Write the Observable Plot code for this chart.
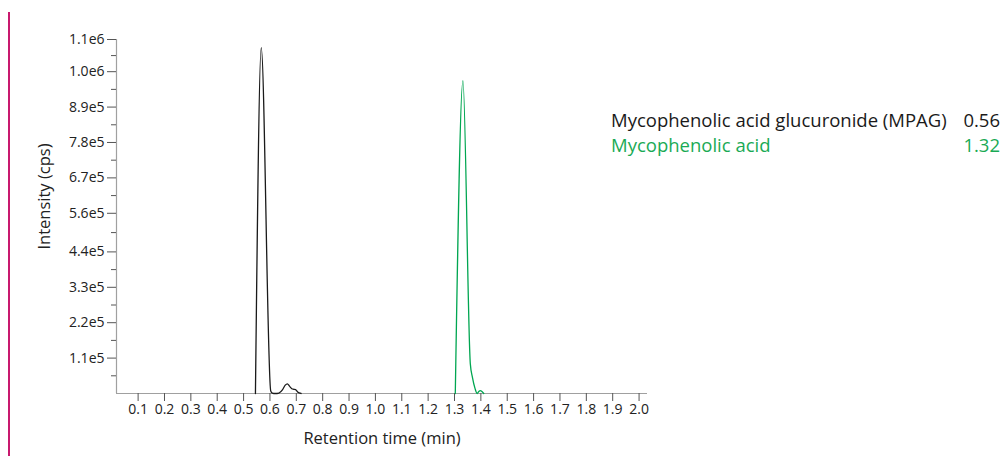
<!DOCTYPE html>
<html>
<head>
<meta charset="utf-8">
<script src="https://cdn.jsdelivr.net/npm/d3@7"></script>
<script src="https://cdn.jsdelivr.net/npm/@observablehq/plot@0.6"></script>
<style>
  body { margin: 0; background: #fff; }
  #wrap { position: relative; width: 1001px; height: 464px; overflow: hidden; font-family: "Open Sans", sans-serif; }
  #bar { position: absolute; left: 8px; top: 12px; width: 2px; height: 444px; background: #c8196e; }
  #legend { position: absolute; left: 611px; top: 107px; width: 389px; font-size: 18.5px; line-height: 25px; }
  #legend .row { display: flex; justify-content: space-between; }
  #chart { position: absolute; left: 0; top: 0; }
</style>
</head>
<body>
<div id="wrap">
  <div id="bar"></div>
  <div id="chart"></div>
  <div id="legend"></div>
</div>
<script>
// ---- data ----
const seriesNames = ["Mycophenolic acid glucuronide (MPAG)", "Mycophenolic acid"];
const retentionTimes = ["0.56", "1.32"];
const seriesColors = ["#1a1a1a", "#00a651"];
const legendColors = ["#1a1a1a", "#1aaa55"];

const mpagTime      = [0.545, 0.567, 0.603, 0.609, 0.620, 0.634, 0.648, 0.658, 0.666, 0.674, 0.683, 0.690, 0.697, 0.705, 0.718];
const mpagIntensity = [0, 1075000, 8000, 1500, 0, 1500, 12000, 26000, 30000, 23000, 15000, 13000, 12000, 5000, 0];

const mpaTime      = [1.303, 1.332, 1.360, 1.368, 1.378, 1.386, 1.392, 1.398, 1.404, 1.411];
const mpaIntensity = [0, 972000, 92000, 50000, 15000, 0, 6000, 9000, 6000, 0];

const xTicks = [0.1, 0.2, 0.3, 0.4, 0.5, 0.6, 0.7, 0.8, 0.9, 1.0, 1.1, 1.2, 1.3, 1.4, 1.5, 1.6, 1.7, 1.8, 1.9, 2.0];
const yTicks = [110000, 220000, 330000, 440000, 560000, 670000, 780000, 890000, 1000000, 1100000];
const yTickLabels = ["1.1e5", "2.2e5", "3.3e5", "4.4e5", "5.6e5", "6.7e5", "7.8e5", "8.9e5", "1.0e6", "1.1e6"];
const yMinorTicks = [55000, 165000, 275000, 385000, 500000, 615000, 725000, 835000, 945000, 1050000];

const xDomain = [0.018, 2.032];
const yDomain = [0, 1100000];
const xTitle = "Retention time (min)";
const yTitle = "Intensity (cps)";

// ---- build table ----
const rows = [
  ...mpagTime.map((t, i) => ({series: seriesNames[0], t, v: mpagIntensity[i]})),
  ...mpaTime.map((t, i) => ({series: seriesNames[1], t, v: mpaIntensity[i]}))
];
const yLabelMap = new Map(yTicks.map((d, i) => [d, yTickLabels[i]]));

const font = "'Open Sans', sans-serif";

const chart = Plot.plot({
  width: 1001,
  height: 464,
  marginLeft: 116,
  marginRight: 354,
  marginTop: 39,
  marginBottom: 71,
  style: {fontFamily: font, fontSize: "14px", background: "transparent", overflow: "visible"},
  x: {domain: xDomain, axis: null},
  y: {domain: yDomain, axis: null},
  color: {domain: seriesNames, range: seriesColors},
  marks: [
    Plot.ruleY([yDomain[0]], {stroke: "#a0a0a0", strokeWidth: 1.2}),
    Plot.ruleX([xDomain[0]], {stroke: "#a0a0a0", strokeWidth: 1.2}),
    Plot.axisX(xTicks, {tickSize: 8, tickPadding: 3, fontSize: 14, stroke: "#555", fill: "#222", tickFormat: d => d.toFixed(1), label: null}),
    Plot.axisY(yTicks, {tickSize: 9, tickPadding: 3, fontSize: 14, stroke: "#555", fill: "#222", tickFormat: d => yLabelMap.get(d), label: null}),
    Plot.axisY(yMinorTicks, {tickSize: 5, stroke: "#555", tickFormat: () => "", label: null}),
    Plot.line(rows, {x: "t", y: "v", z: "series", stroke: "series", strokeWidth: 1.3, curve: "monotone-x"}),
    Plot.text([xTitle], {frameAnchor: "bottom", lineAnchor: "middle", textAnchor: "middle", dy: 45, fontSize: 16.5, fill: "#222", text: d => d}),
    Plot.text([yTitle], {frameAnchor: "left", lineAnchor: "middle", textAnchor: "middle", dx: -72, dy: -20, rotate: -90, fontSize: 16.5, fill: "#222", text: d => d})
  ]
});
document.getElementById("chart").appendChild(chart);

const legend = document.getElementById("legend");
seriesNames.forEach((name, i) => {
  const row = document.createElement("div");
  row.className = "row";
  row.style.color = legendColors[i];
  const a = document.createElement("span"); a.textContent = name;
  const b = document.createElement("span"); b.textContent = retentionTimes[i];
  row.appendChild(a); row.appendChild(b);
  legend.appendChild(row);
});
</script>
</body>
</html>
